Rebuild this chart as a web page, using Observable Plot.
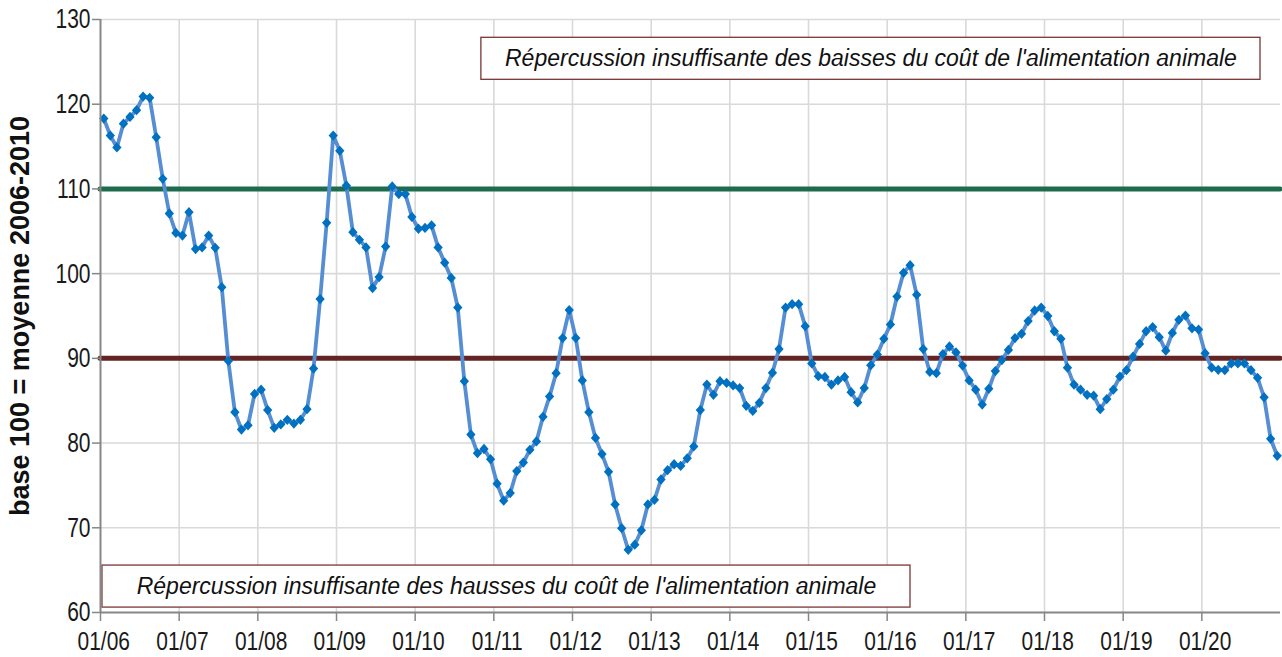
<!DOCTYPE html>
<html>
<head>
<meta charset="utf-8">
<script src="https://cdn.jsdelivr.net/npm/d3@7"></script>
<script src="https://cdn.jsdelivr.net/npm/@observablehq/plot@0.6"></script>
<style>
  html, body { margin: 0; padding: 0; background: #fff; overflow: hidden; }
  svg { display: block; }
</style>
</head>
<body>
<div id="chart"></div>
<script>
// Monthly index, 01/2006 .. 12/2020 (base 100 = moyenne 2006-2010)
const values = [
  118.3, 116.3, 114.9, 117.7, 118.5, 119.3, 120.9, 120.75, 116.1, 111.2, 107.1, 104.8,
  104.5, 107.25, 102.9, 103.1, 104.5, 103.05, 98.4, 89.7, 83.65, 81.6, 82.1, 85.8,
  86.3, 83.9, 81.8, 82.2, 82.75, 82.3, 82.75, 84.0, 88.8, 97.0, 106.0, 116.3,
  114.5, 110.4, 104.9, 104.0, 103.1, 98.3, 99.6, 103.2, 110.3, 109.4, 109.4, 106.7,
  105.3, 105.4, 105.7, 103.1, 101.3, 99.5, 96.0, 87.3, 81.0, 78.8, 79.3, 78.1,
  75.2, 73.2, 74.1, 76.7, 77.7, 79.2, 80.2, 83.1, 85.5, 88.25, 92.4, 95.7,
  92.4, 87.4, 83.65, 80.6, 78.7, 76.6, 72.75, 69.95, 67.4, 68.0, 69.7, 72.75,
  73.3, 75.7, 76.8, 77.5, 77.3, 78.2, 79.6, 83.9, 86.9, 85.7, 87.3, 87.1,
  86.8, 86.5, 84.4, 83.8, 84.75, 86.5, 88.3, 91.1, 96.0, 96.4, 96.4, 93.8,
  89.4, 87.9, 87.8, 86.9, 87.4, 87.8, 86.0, 84.8, 86.5, 89.2, 90.45, 92.3,
  94.0, 97.3, 100.1, 101.0, 97.5, 91.1, 88.4, 88.25, 90.5, 91.4, 90.7, 89.15,
  87.4, 86.3, 84.55, 86.4, 88.5, 89.8, 91.0, 92.4, 92.9, 94.4, 95.65, 96.0,
  95.0, 93.2, 92.3, 88.9, 86.9, 86.3, 85.7, 85.6, 84.0, 85.2, 86.3, 87.85,
  88.6, 90.2, 91.7, 93.2, 93.7, 92.5, 90.9, 93.0, 94.55, 95.05, 93.55, 93.4,
  90.6, 88.9, 88.65, 88.6, 89.4, 89.4, 89.4, 88.6, 87.7, 85.4, 80.5, 78.5
];
const yearLabels = ["01/06","01/07","01/08","01/09","01/10","01/11","01/12","01/13",
                    "01/14","01/15","01/16","01/17","01/18","01/19","01/20"];
const yTicks = [60, 70, 80, 90, 100, 110, 120, 130];
const upperThreshold = 110;
const lowerThreshold = 90;
const yTitle = "base 100 = moyenne 2006-2010";
// annotation boxes, in data units (month index / index value)
const noteTexts = [
  "Répercussion insuffisante des baisses du coût de l'alimentation animale",
  "Répercussion insuffisante des hausses du coût de l'alimentation animale"
];
const noteMonthStart = [58.1, 0.3];
const noteMonthEnd   = [176.95, 123.56];
const noteValueLow   = [122.88, 60.58];
const noteValueHigh  = [127.84, 65.54];

// ---- build tables ----
const months = values.map((v, i) => ({i, v}));
const yearStarts = yearLabels.map((_, k) => k * 12);
const yearCenters = yearLabels.map((_, k) => k * 12 + 0.5);
const notes = noteTexts.map((t, k) => ({
  t, x1: noteMonthStart[k], x2: noteMonthEnd[k], y1: noteValueLow[k], y2: noteValueHigh[k]
}));

const diamond = {
  draw(ctx, size) {
    const r = Math.sqrt(size / 2);
    ctx.moveTo(0, -r * 1.05);
    ctx.lineTo(r * 0.95, 0);
    ctx.lineTo(0, r * 1.05);
    ctx.lineTo(-r * 0.95, 0);
    ctx.closePath();
  }
};

const axisGray = "#868686";
const gridGray = "#d9d9d9";

const plot = Plot.plot({
  width: 1282,
  height: 657,
  marginLeft: 100,
  marginRight: 2,
  marginTop: 19,
  marginBottom: 45,
  style: {fontFamily: "'Liberation Sans', Arial, sans-serif", background: "#fff"},
  x: {domain: [0, values.length], axis: null},
  y: {domain: [60, 130], axis: null},
  marks: [
    Plot.gridY(yTicks.slice(1), {stroke: gridGray, strokeOpacity: 1, strokeWidth: 1.6}),
    Plot.gridX(yearStarts.slice(1), {stroke: gridGray, strokeOpacity: 1, strokeWidth: 1.6}),
    Plot.ruleY([upperThreshold], {stroke: "#1f6b4e", strokeWidth: 5, strokeLinecap: "round"}),
    Plot.ruleY([lowerThreshold], {stroke: "#632523", strokeWidth: 5, strokeLinecap: "round"}),
    Plot.line(months, {x: d => d.i + 0.5, y: "v", stroke: "#558ed5", strokeWidth: 3.8}),
    Plot.dot(months, {x: d => d.i + 0.5, y: "v", symbol: diamond, r: 3.9, fill: "#0070c0", stroke: "none"}),
    Plot.rect(notes, {x1: "x1", x2: "x2", y1: "y1", y2: "y2", fill: "#fff", stroke: "#7a3535", strokeWidth: 1.3}),
    Plot.text(notes, {x: d => (d.x1 + d.x2) / 2, y: d => (d.y1 + d.y2) / 2, text: "t",
      fontStyle: "italic", fontSize: 23, fill: "#111"}),
    Plot.ruleX([0], {stroke: axisGray, strokeWidth: 2}),
    Plot.ruleY([60], {stroke: axisGray, strokeWidth: 2}),
    Plot.axisY({ticks: yTicks, tickSize: 8, tickPadding: 2, fontSize: 28, stroke: axisGray,
      strokeWidth: 1.5, fill: "#1a1a1a", tickFormat: d => String(d)}),
    Plot.axisX({ticks: yearStarts, tickSize: 9, stroke: axisGray, strokeWidth: 1.5, tickFormat: () => ""}),
    Plot.axisX({ticks: yearCenters, tickSize: 0, tickPadding: 19, fontSize: 26.5, fill: "#1a1a1a",
      tickFormat: (d) => yearLabels[Math.round((d - 0.5) / 12)]}),
    Plot.text([yTitle], {frameAnchor: "left", dx: -80, rotate: -90, text: d => d,
      fontWeight: "bold", fontSize: 27, fill: "#111", textAnchor: "middle", lineAnchor: "middle",
      ariaLabel: "ytitle"})
  ]
});

document.getElementById("chart").appendChild(plot);

// condensed look of the axis text (as in the reference)
d3.select(plot).selectAll('g[aria-label="x-axis tick label"] text')
  .each(function() {
    const t = this.getAttribute("transform") || "";
    this.setAttribute("transform", t + " scale(0.79,1)");
  });
d3.select(plot).selectAll('g[aria-label="y-axis tick label"] text')
  .each(function() {
    const t = this.getAttribute("transform") || "";
    this.setAttribute("transform", t + " scale(0.75,1)");
  });
d3.select(plot).selectAll('g[aria-label="ytitle"] text')
  .each(function() {
    const t = this.getAttribute("transform") || "";
    this.setAttribute("transform", t + " scale(1,0.75)");
  });
</script>
</body>
</html>
